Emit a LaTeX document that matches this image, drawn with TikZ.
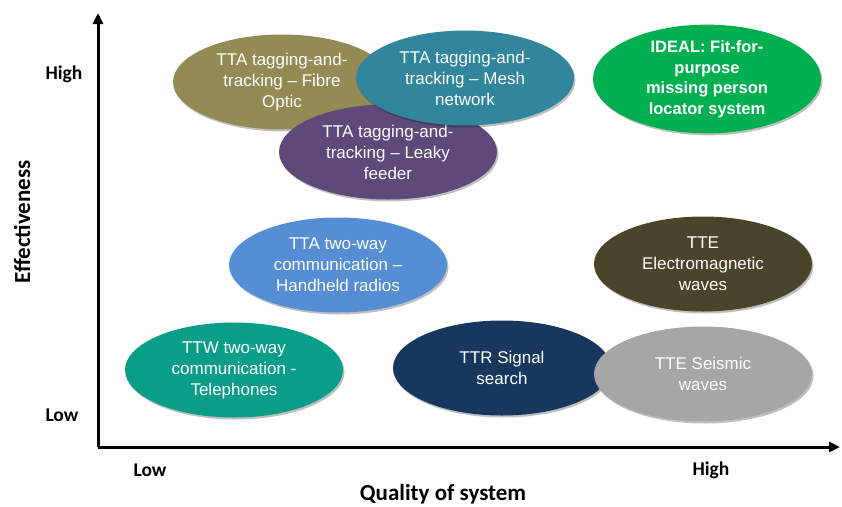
\documentclass[tikz,border=0pt]{standalone}
\usepackage{fontspec}
\setmainfont{Liberation Sans}
\newfontfamily\axisfont{Carlito}
\usetikzlibrary{shapes.geometric,arrows.meta,shadows}

\definecolor{cFibre}{HTML}{948A54}
\definecolor{cMesh}{HTML}{31859C}
\definecolor{cLeaky}{HTML}{5F497A}
\definecolor{cIdeal}{HTML}{00B050}
\definecolor{cRadio}{HTML}{558ED5}
\definecolor{cEM}{HTML}{4A452A}
\definecolor{cPhone}{HTML}{0A9E88}
\definecolor{cSignal}{HTML}{17375E}
\definecolor{cSeismic}{HTML}{A6A6A6}

\tikzset{
  blob/.style={ellipse, inner sep=0pt, minimum width=218pt, minimum height=95pt,
    text=white, align=center, font=\fontsize{17}{21}\selectfont,
    drop shadow={shadow xshift=1.5pt, shadow yshift=-2pt, opacity=0.25, fill=black}},
  axisline/.style={line width=3pt, -{Triangle[length=11pt,width=10pt]}},
  ticklabel/.style={font=\axisfont\bfseries\fontsize{19.5}{22}\selectfont},
  axistitle/.style={font=\axisfont\bfseries\fontsize{23}{26}\selectfont},
}

\begin{document}
\begin{tikzpicture}[x=1pt,y=-1pt]
  \useasboundingbox (0,0) rectangle (842,506);

  % axes
  \coordinate (origin) at (98,447);
  \coordinate (ytip) at (98,13);
  \coordinate (xtip) at (840,447);
  \draw[axisline] (origin) -- (ytip);
  \draw[axisline] (origin) -- (xtip);

  % axis annotations
  \node[ticklabel] (yhigh) at (64,74) {High};
  \node[ticklabel] (ylow) at (62,415) {Low};
  \node[axistitle, rotate=90] (ytitle) at (22,222) {Effectiveness};
  \node[ticklabel] (xlow) at (150,470) {Low};
  \node[ticklabel] (xhigh) at (711,470) {High};
  \node[axistitle] (xtitle) at (443,494) {Quality of system};

  % technologies
  \node[blob, fill=cFibre] (fibre) at (282,82)
    {TTA tagging-and-\\tracking – Fibre\\Optic};
  \node[blob, fill=cLeaky] (leaky) at (388,152)
    {TTA tagging-and-\\tracking – Leaky\\feeder};
  \node[blob, fill=cMesh] (mesh) at (465,78)
    {TTA tagging-and-\\tracking – Mesh\\network};
  \node[blob, fill=cIdeal, minimum width=228pt, font=\bfseries\fontsize{16.5}{20.5}\selectfont] (ideal) at (707,79)
    {IDEAL: Fit-for-\\purpose\\missing person\\locator system};
  \node[blob, fill=cRadio] (radio) at (338,265)
    {TTA two-way\\communication –\\Handheld radios};
  \node[blob, fill=cEM] (em) at (703,264)
    {TTE\\Electromagnetic\\waves};
  \node[blob, fill=cPhone] (phone) at (234,370)
    {TTW two-way\\communication -\\Telephones};
  \node[blob, fill=cSignal] (signal) at (502,368)
    {TTR Signal\\search};
  \node[blob, fill=cSeismic] (seismic) at (703,374)
    {TTE Seismic\\waves};
\end{tikzpicture}
\end{document}
